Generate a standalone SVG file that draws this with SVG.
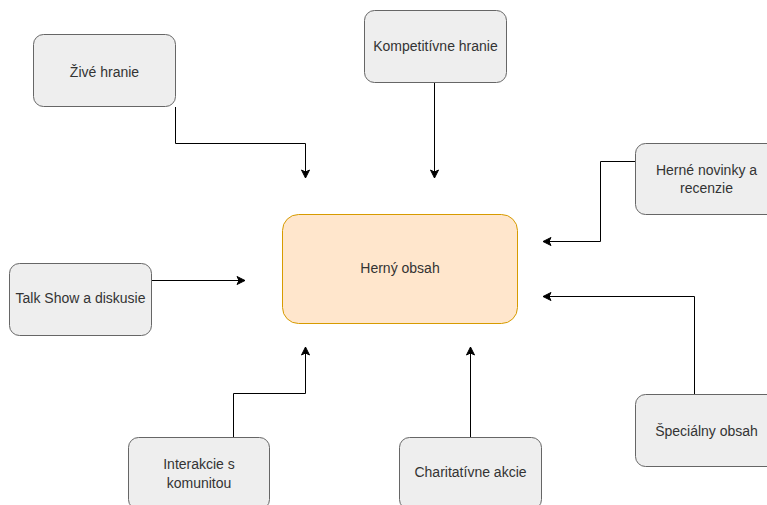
<svg xmlns="http://www.w3.org/2000/svg" width="767" height="505" viewBox="0 0 767 505">
<defs>
<style>
.n{fill:#eeeeee;stroke:#666666;stroke-width:1}
.m{fill:#ffe6cc;stroke:#d79b00;stroke-width:1}
.t{font-family:"Liberation Sans",Arial,sans-serif;font-size:14px;fill:#333333;text-anchor:middle}
.c{fill:none;stroke:#000000;stroke-width:1}
</style>
<marker id="a" markerUnits="userSpaceOnUse" markerWidth="10" markerHeight="10" viewBox="-9 -5 10 10" refX="0" refY="0" orient="auto">
<path d="M0,0 L-8,-4 L-6,0 L-8,4 Z" fill="#000000" stroke="#000000" stroke-width="1"/>
</marker>
</defs>
<rect width="767" height="505" fill="#ffffff"/>
<g id="connectors">
<path class="c" d="M175.5,107 V143.5 H305.5 V178" marker-end="url(#a)"/>
<path class="c" d="M434.5,82 V178" marker-end="url(#a)"/>
<path class="c" d="M635,161.5 H600.5 V241.5 H543" marker-end="url(#a)"/>
<path class="c" d="M152,280.5 H245" marker-end="url(#a)"/>
<path class="c" d="M233.5,437 V393.5 H305.5 V347" marker-end="url(#a)"/>
<path class="c" d="M470.5,437 V347" marker-end="url(#a)"/>
<path class="c" d="M694.5,394 V296.5 H543" marker-end="url(#a)"/>
</g>
<g id="main">
<rect class="m" x="282.5" y="214.5" width="235" height="109" rx="16"/>
<text class="t" x="400" y="273">Herný obsah</text>
</g>
<g id="zive">
<rect class="n" x="33.5" y="34.5" width="142" height="72" rx="10"/>
<text class="t" x="104.5" y="77">Živé hranie</text>
</g>
<g id="kompetitivne">
<rect class="n" x="364.5" y="10.5" width="142" height="72" rx="10"/>
<text class="t" x="435.5" y="51">Kompetitívne hranie</text>
</g>
<g id="novinky">
<rect class="n" x="635.5" y="143.5" width="142" height="71" rx="10"/>
<text class="t" x="706.5" y="175">Herné novinky a</text>
<text class="t" x="706.5" y="193">recenzie</text>
</g>
<g id="talkshow">
<rect class="n" x="9.5" y="263.5" width="142" height="72" rx="10"/>
<text class="t" x="80.5" y="303">Talk Show a diskusie</text>
</g>
<g id="interakcie">
<rect class="n" x="128.5" y="437.5" width="141" height="72" rx="10"/>
<text class="t" x="199" y="469">Interakcie s</text>
<text class="t" x="199" y="488">komunitou</text>
</g>
<g id="charitativne">
<rect class="n" x="399.5" y="437.5" width="142" height="72" rx="10"/>
<text class="t" x="470.5" y="477">Charitatívne akcie</text>
</g>
<g id="specialny">
<rect class="n" x="635.5" y="394.5" width="142" height="72" rx="10"/>
<text class="t" x="706.5" y="436">Špeciálny obsah</text>
</g>
</svg>
